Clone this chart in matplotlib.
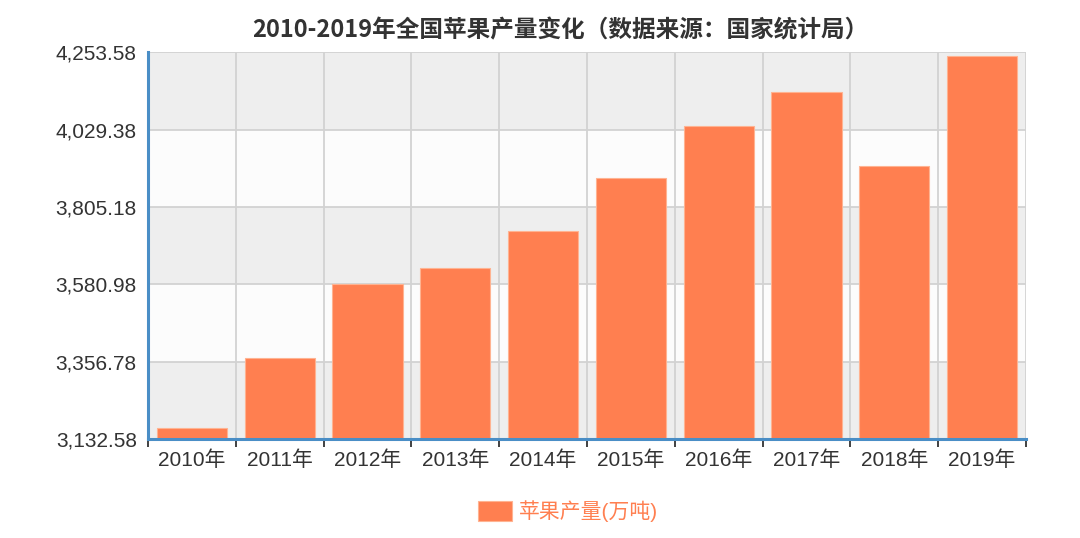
import numpy as np
import matplotlib
matplotlib.use('Agg')
from matplotlib import pyplot as plt
from matplotlib.ticker import FixedLocator, FuncFormatter

plt.rcParams['font.family'] = ['Liberation Sans', 'Noto Sans CJK SC', 'DejaVu Sans']

# 数据：国家统计局，万吨
years = ['2010年', '2011年', '2012年', '2013年', '2014年',
         '2015年', '2016年', '2017年', '2018年', '2019年']
output = [3164.22, 3367.2, 3583.0, 3629.0, 3735.0,
          3889.9, 4039.3, 4139.0, 3923.3, 4242.5]
yticks = [3132.58, 3356.78, 3580.98, 3805.18, 4029.38, 4253.58]

bar_color = '#ff7f50'
axis_blue = '#4a8ec6'
grid_gray = '#d2d2d2'

fig = plt.figure(figsize=(10.8, 5.38), dpi=100)
ax = fig.add_axes([0.137, 0.184, 0.813, 0.719])

x = np.arange(len(years))
ax.set_xlim(-0.5, len(years) - 0.5)
ax.set_ylim(yticks[0], yticks[-1])

# 交替背景
for k in range(len(yticks) - 1):
    fc = '#eeeeee' if k % 2 == 0 else '#fcfcfc'
    ax.axhspan(yticks[k], yticks[k + 1], color=fc, zorder=0, lw=0)

# 网格
for yv in yticks[1:]:
    ax.axhline(yv, color=grid_gray, lw=1.3, zorder=1)
for xv in np.arange(0.5, len(years), 1.0):
    ax.axvline(xv, color=grid_gray, lw=1.3, zorder=1)

ax.bar(x, output, width=0.8, bottom=0, color=bar_color,
       edgecolor='#ffb391', linewidth=0.8, zorder=2, label='苹果产量(万吨)')

ax.yaxis.set_major_locator(FixedLocator(yticks))
ax.yaxis.set_major_formatter(FuncFormatter(lambda v, p: f'{v:,.2f}'))
ax.set_xticks(x)
ax.set_xticklabels(years)
ax.xaxis.set_minor_locator(FixedLocator(np.arange(-0.5, len(years), 1.0)))
ax.tick_params(axis='x', which='major', length=0, pad=8, labelsize=15, labelcolor='#333333')
ax.tick_params(axis='x', which='minor', length=6, width=1.3, color='#333333', direction='out')
ax.tick_params(axis='y', length=0, pad=8, labelsize=15, labelcolor='#333333')

for s in ['top', 'right']:
    ax.spines[s].set_visible(False)
for s in ['left', 'bottom']:
    ax.spines[s].set_color(axis_blue)
    ax.spines[s].set_linewidth(2.2)
    ax.spines[s].set_zorder(3)

fig.text(0.519, 0.944, '2010-2019年全国苹果产量变化（数据来源：国家统计局）',
         ha='center', va='center', fontsize=17, fontweight='bold', color='#333333',
         family=['Noto Sans CJK SC', 'DejaVu Sans'])

handles, labels = ax.get_legend_handles_labels()
fig.legend(handles, labels, loc='center', bbox_to_anchor=(0.526, 0.05), frameon=False,
           fontsize=15, handlelength=1.6, handleheight=1.05,
           labelcolor=bar_color, handletextpad=0.35)

plt.savefig('out.png', dpi=100)
